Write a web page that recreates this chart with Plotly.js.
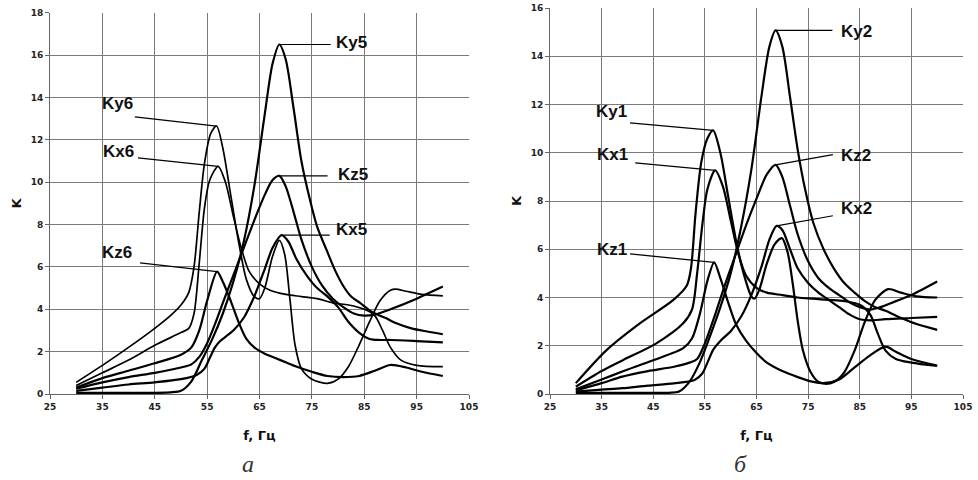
<!DOCTYPE html>
<html>
<head>
<meta charset="utf-8">
<script src="https://cdn.plot.ly/plotly-3.0.1.min.js"></script>
<style>html,body{margin:0;padding:0;background:#fff;}#chart{width:978px;height:480px;}</style>
</head>
<body>
<div id="chart"></div>
<script>
// ---------- Chart "а" (left) ----------
const ky6_x = [30,35,40,45,48,50,51.5,52.5,53.5,54.5,55.7,56.8,58,59.5,61,62.5,64,65,66,67.5,68.8,69.8,70.8,71.8,73,75,78,80,82,84,86,88,90,91,93,96,100];
const ky6_y = [0.55,1.35,2.2,3.1,3.7,4.2,4.8,6.0,8.6,10.9,12.3,12.65,11.6,9.4,7.2,5.4,4.6,4.5,5.0,6.5,7.25,6.6,4.5,2.3,1.2,0.7,0.5,0.7,1.3,2.3,3.4,4.4,4.9,4.95,4.85,4.7,4.63];

const kx6_x = [30,35,40,45,50,51.5,52.5,53.5,54.5,55.5,57.1,58.5,60,61.5,63,65,67,70,73,76,79,82,85,87,88.5,90,92,95,100];
const kx6_y = [0.4,1.0,1.6,2.3,2.9,3.1,3.8,6.2,8.8,10.1,10.75,10.0,8.4,6.9,5.8,5.2,4.9,4.7,4.6,4.5,4.3,4.2,4.0,3.7,3.0,2.2,1.6,1.35,1.29];

const kz6_x = [30,35,40,45,50,52,53.5,55,56.9,58,59.5,61,62.5,64,66,68,70,72,75,78,81,84,87,90,93,96,100];
const kz6_y = [0.3,0.75,1.1,1.45,1.85,2.2,3.0,4.4,5.78,5.3,4.4,3.4,2.6,2.2,1.9,1.7,1.5,1.3,1.05,0.85,0.8,0.85,1.1,1.37,1.25,1.05,0.85];

const ky5_x = [30,40,48,50,52,54,56,58,60,62,64,66,67.5,68.8,70,71.5,73,74.6,76,77.8,79.5,81,82.5,84.2,86,87.5,89,91,94,97,100];
const ky5_y = [0.05,0.05,0.08,0.15,0.6,1.6,2.6,3.8,5.3,7.2,9.8,13.2,15.6,16.5,15.8,13.5,11,9.2,7.9,6.8,5.8,5.1,4.6,4.3,3.95,3.75,3.6,3.35,3.1,2.95,2.82];

const kz5_x = [30,35,40,45,50,52,53.5,55,56.5,58,60,62,64,66,67.5,68.8,70,71.5,73,75,77,79,81,83,85,87,90,95,100];
const kz5_y = [0.25,0.55,0.8,1.0,1.25,1.4,1.75,2.4,3.3,4.3,5.6,6.9,8.2,9.4,10.1,10.3,9.8,8.6,7.3,6.0,5.1,4.5,4.1,3.8,3.7,3.75,4.0,4.5,5.07];

const kx5_x = [30,35,40,45,50,53,54.5,55.5,56.5,57.5,58.5,60,62,64,66,67.5,69.2,70.5,72,74,76,78,80,82,84,86,88,90,95,100];
const kx5_y = [0.15,0.3,0.45,0.55,0.7,0.9,1.2,1.7,2.2,2.5,2.7,3.0,3.6,4.6,5.9,6.9,7.5,7.2,6.4,5.6,5.0,4.6,4.1,3.4,2.9,2.6,2.55,2.55,2.5,2.44];

// ---------- Chart "б" (right) ----------
const ky1_x = [30,36,42.4,48.9,51.5,52.3,53.2,54.3,55.5,56.6,58,59.5,61,62.5,64,64.6,65.5,67,68.5,69.9,71,72,73,74,75.5,77,78.5,80,82,84,86,88,90.5,93,96,100];
const ky1_y = [0.45,1.83,2.93,3.9,4.5,5.2,7.5,9.6,10.6,10.93,10.0,8.2,6.4,5.0,4.05,3.95,4.3,5.4,6.2,6.46,5.9,4.6,3.0,1.8,0.9,0.5,0.42,0.5,0.9,1.8,3.0,3.9,4.35,4.2,4.05,4.0];

const kx1_x = [30,35,39.2,45.6,50.8,52.5,53.5,54.5,55.5,57,58.5,60,61.5,63,65,67,70,73,76,79,82,85,87,88.5,90,92,95,100];
const kx1_y = [0.3,0.95,1.41,2.1,2.93,3.5,5.0,7.0,8.5,9.27,8.6,7.2,5.8,4.9,4.4,4.2,4.1,4.0,3.95,3.9,3.85,3.7,3.3,2.5,1.8,1.45,1.3,1.16];

const kz1_x = [30,35,39,45,50.8,52.5,54,55.5,56.8,58,59.5,61,63,65,67,70,73,76,78,81,84,87,90,92,95,100];
const kz1_y = [0.2,0.6,0.93,1.4,1.9,2.3,3.3,4.7,5.46,4.8,3.8,2.9,2.2,1.7,1.3,0.95,0.7,0.5,0.45,0.6,1.1,1.6,1.96,1.75,1.45,1.18];

const ky2_x = [30,40,48,50,52,54,56,58,60,62,64,66,67.5,68.7,70,71.5,73,74.5,76,78,80,82,84,86,88,90,93,96,100];
const ky2_y = [0.05,0.05,0.05,0.1,0.5,1.3,2.4,3.6,5.0,6.9,9.3,12.4,14.4,15.07,14.4,12.3,10.1,8.4,7.1,6.0,5.2,4.6,4.2,3.85,3.6,3.45,3.15,2.9,2.66];

const kz2_x = [30,35,39,44,49,52,53.5,55,57,59,61,63,65,67,68.7,70,71.5,73,75,77,79,81,83,85,87,89,92,95,100];
const kz2_y = [0.15,0.45,0.72,0.95,1.13,1.3,1.45,2.1,3.3,4.6,5.8,7.0,8.1,9.1,9.5,9.0,7.8,6.6,5.5,4.8,4.4,4.1,3.8,3.6,3.5,3.6,3.85,4.1,4.66];

const kx2_x = [30,35,39,44,49,53,54.5,55.5,56.6,58,60,62,64,66,67.5,68.9,70,71.5,73,75,77,79,81,83,85,87,90,95,100];
const kx2_y = [0.1,0.18,0.24,0.35,0.44,0.58,0.85,1.3,1.83,2.2,2.6,3.2,4.1,5.3,6.4,6.97,6.8,6.0,5.2,4.6,4.2,3.9,3.6,3.3,3.1,3.05,3.1,3.15,3.2];

const xTickVals = [25,35,45,55,65,75,85,95,105];
const leftYTicks = [0,2,4,6,8,10,12,14,16,18];
const rightYTicks = [0,2,4,6,8,10,12,14,16];

// label name, series x, series y, text position (data), leader start (data)
const leftLabels = [
  {name:'Ky6', xs:ky6_x, ys:ky6_y, tx:37.8, ty:13.7, lx:41.2, ly:13.08},
  {name:'Kx6', xs:kx6_x, ys:kx6_y, tx:38.0, ty:11.43, lx:41.8, ly:11.15},
  {name:'Kz6', xs:kz6_x, ys:kz6_y, tx:37.8, ty:6.66, lx:42.2, ly:6.19},
  {name:'Ky5', xs:ky5_x, ys:ky5_y, tx:82.6, ty:16.58, lx:78.6, ly:null},
  {name:'Kz5', xs:kz5_x, ys:kz5_y, tx:82.8, ty:10.34, lx:78.0, ly:null},
  {name:'Kx5', xs:kx5_x, ys:kx5_y, tx:82.6, ty:7.75, lx:78.4, ly:null}
];
const rightLabels = [
  {name:'Ky1', xs:ky1_x, ys:ky1_y, tx:37.0, ty:11.7, lx:40.5, ly:11.24},
  {name:'Kx1', xs:kx1_x, ys:kx1_y, tx:37.2, ty:9.92, lx:41.5, ly:9.58},
  {name:'Kz1', xs:kz1_x, ys:kz1_y, tx:37.0, ty:5.98, lx:40.5, ly:5.81},
  {name:'Ky2', xs:ky2_x, ys:ky2_y, tx:84.3, ty:15.02, lx:79.7, ly:null},
  {name:'Kz2', xs:kz2_x, ys:kz2_y, tx:84.3, ty:9.88, lx:79.8, ly:9.92},
  {name:'Kx2', xs:kx2_x, ys:kx2_y, tx:84.3, ty:7.68, lx:79.8, ly:7.39}
];

const traces = [];
function addTrace(xs, ys, name, ax, w){
  traces.push({x:xs, y:ys, name:name, type:'scatter', mode:'lines',
    line:{color:'#000', width:w, shape:'spline', smoothing:0.8},
    xaxis: ax==='L' ? 'x' : 'x2', yaxis: ax==='L' ? 'y' : 'y2', hoverinfo:'skip'});
}
addTrace(ky6_x, ky6_y, 'Ky6', 'L', 1.7);
addTrace(kx6_x, kx6_y, 'Kx6', 'L', 1.7);
addTrace(kz6_x, kz6_y, 'Kz6', 'L', 2.2);
addTrace(ky5_x, ky5_y, 'Ky5', 'L', 2.2);
addTrace(kz5_x, kz5_y, 'Kz5', 'L', 2.2);
addTrace(kx5_x, kx5_y, 'Kx5', 'L', 2.2);
addTrace(ky1_x, ky1_y, 'Ky1', 'R', 2.2);
addTrace(kx1_x, kx1_y, 'Kx1', 'R', 2.2);
addTrace(kz1_x, kz1_y, 'Kz1', 'R', 2.2);
addTrace(ky2_x, ky2_y, 'Ky2', 'R', 2.2);
addTrace(kz2_x, kz2_y, 'Kz2', 'R', 2.2);
addTrace(kx2_x, kx2_y, 'Kx2', 'R', 2.2);

const annotations = [];
const shapes = [];
function peakOf(xs, ys){
  let i = 0; for (let k=1;k<ys.length;k++) if (ys[k]>ys[i]) i=k;
  return [xs[i], ys[i]];
}
function addLabels(list, xr, yr){
  list.forEach(l => {
    const p = peakOf(l.xs, l.ys);
    annotations.push({x:l.tx, y:l.ty, xref:xr, yref:yr, text:'<b>'+l.name+'</b>', showarrow:false,
      xanchor:'center', yanchor:'middle',
      font:{family:'Liberation Sans, Arial, sans-serif', size:17, color:'#111'}});
    shapes.push({type:'line', xref:xr, yref:yr, x0:p[0], y0:p[1], x1:l.lx, y1:(l.ly===null?p[1]:l.ly),
      line:{color:'#000', width:1.2}});
  });
}
addLabels(leftLabels, 'x', 'y');
addLabels(rightLabels, 'x2', 'y2');

const captionFont = {family:'Liberation Serif, DejaVu Serif, serif', size:24, color:'#333', style:'italic'};
annotations.push({x:248/978, y:1/480, xref:'paper', yref:'paper', xanchor:'center', yanchor:'bottom',
  text:'а', showarrow:false, font:captionFont});
annotations.push({x:740/978, y:1/480, xref:'paper', yref:'paper', xanchor:'center', yanchor:'bottom',
  text:'б', showarrow:false, font:captionFont});

const tickFont = {family:'DejaVu Sans, Verdana, sans-serif', size:9, color:'#222', weight:'bold'};
const titleFont = {family:'DejaVu Sans, Verdana, sans-serif', size:13, color:'#111', weight:'bold'};
function xAxis(domain, anchor){
  return {domain:domain, anchor:anchor, range:[25,105], tickvals:xTickVals, ticktext:xTickVals.map(String),
    showgrid:true, gridcolor:'#7a7a7a', gridwidth:1, showline:true, linecolor:'#666', linewidth:1,
    ticks:'outside', ticklen:4, tickcolor:'#666', tickfont:tickFont, zeroline:false,
    title:{text:'<b>f, Гц</b>', font:titleFont, standoff:20}, automargin:false};
}
function yAxis(domain, anchor, max, ticks){
  return {domain:domain, anchor:anchor, range:[0,max], tickvals:ticks, ticktext:ticks.map(String),
    showgrid:true, gridcolor:'#7a7a7a', gridwidth:1, showline:true, linecolor:'#666', linewidth:1,
    ticks:'outside', ticklen:4, tickcolor:'#666', tickfont:tickFont, zeroline:false,
    title:{text:'<b>K</b>', font:titleFont, standoff:6}, automargin:false};
}

const layout = {
  width:978, height:480, margin:{l:0,r:0,t:0,b:0}, paper_bgcolor:'#fff', plot_bgcolor:'#fff',
  showlegend:false,
  xaxis: xAxis([50/978, 469/978], 'y'),
  yaxis: yAxis([86/480, 467.3/480], 'x', 18, leftYTicks),
  xaxis2: xAxis([550/978, 963/978], 'y2'),
  yaxis2: yAxis([86/480, 472/480], 'x2', 16, rightYTicks),
  annotations: annotations, shapes: shapes
};
Plotly.newPlot('chart', traces, layout, {staticPlot:true, displayModeBar:false});
</script>
</body>
</html>
